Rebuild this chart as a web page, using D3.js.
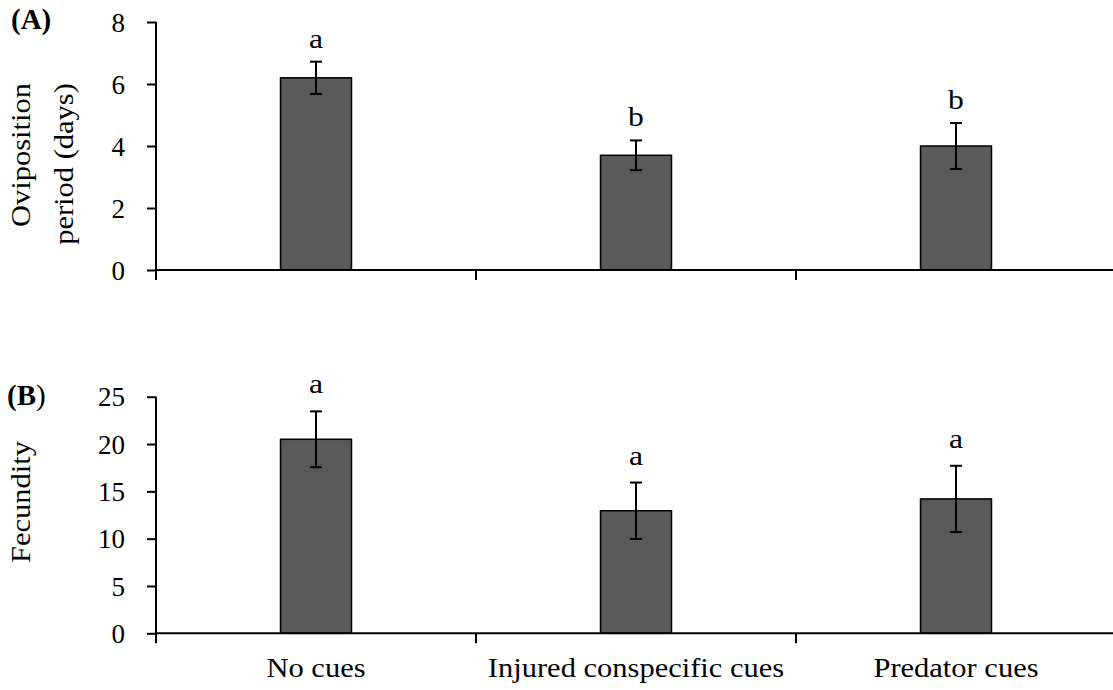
<!DOCTYPE html>
<html>
<head>
<meta charset="utf-8">
<script src="https://cdn.jsdelivr.net/npm/d3@7"></script>
<style>
  html, body { margin: 0; padding: 0; background: #fff; }
  svg { display: block; }
  text { font-family: "Liberation Serif", "Times New Roman", serif; fill: #000; }
</style>
</head>
<body>
<svg id="chart" width="1113" height="690"></svg>
<script>
const categories = ["No cues", "Injured conspecific cues", "Predator cues"];

const ovipositionMean = [6.2, 3.7, 4.0];
const ovipositionErr  = [0.52, 0.48, 0.74];
const ovipositionLetters = ["a", "b", "b"];
const ovipositionTicks = [0, 2, 4, 6, 8];

const fecundityMean = [20.5, 12.95, 14.2];
const fecundityErr  = [2.95, 2.98, 3.5];
const fecundityLetters = ["a", "a", "a"];
const fecundityTicks = [0, 5, 10, 15, 20, 25];

const svg = d3.select("#chart");
const FONT = 27;
const STRETCH = 1.13;

const x = d3.scaleBand().domain(categories).range([156, 1116]).paddingInner(0).paddingOuter(0);
const barW = 71;

function panel(opts) {
  const g = svg.append("g");
  const y = d3.scaleLinear().domain(opts.domain).range([opts.bottom, opts.top]);

  g.selectAll("rect.bar").data(opts.mean).join("rect")
    .attr("class", "bar")
    .attr("x", (d, i) => x(categories[i]) + x.bandwidth() / 2 - barW / 2)
    .attr("y", d => y(d))
    .attr("width", barW)
    .attr("height", d => y(0) - y(d))
    .attr("fill", "#595959")
    .attr("stroke", "#000")
    .attr("stroke-width", 1.5);

  opts.mean.forEach((m, i) => {
    const cx = x(categories[i]) + x.bandwidth() / 2;
    const e = opts.err[i];
    g.append("line").attr("x1", cx).attr("x2", cx).attr("y1", y(m + e)).attr("y2", y(m - e))
      .attr("stroke", "#000").attr("stroke-width", 2);
    [m + e, m - e].forEach(v => {
      g.append("line").attr("x1", cx - 6).attr("x2", cx + 6).attr("y1", y(v)).attr("y2", y(v))
        .attr("stroke", "#000").attr("stroke-width", 2);
    });
    g.append("text").attr("transform", `translate(${cx},${y(m + e) - opts.letterGap}) scale(${STRETCH},1)`)
      .attr("text-anchor", "middle").attr("font-size", 28).text(opts.letters[i]);
  });

  const yAxis = d3.axisLeft(y).tickValues(opts.ticks).tickSize(9).tickPadding(22).tickSizeOuter(0);
  const ya = g.append("g").attr("transform", "translate(156,0)").call(yAxis);
  ya.select(".domain").attr("stroke", "#000").attr("stroke-width", 2)
    .attr("d", `M0,${opts.top}V${opts.bottom}`);
  ya.selectAll(".tick line").attr("stroke", "#000").attr("stroke-width", 2);
  ya.selectAll(".tick text").attr("font-size", FONT).attr("dy", "0.34em");

  g.append("line").attr("x1", 156).attr("x2", 1113).attr("y1", y(0)).attr("y2", y(0))
    .attr("stroke", "#000").attr("stroke-width", 2);
  categories.forEach(c => {
    g.append("line").attr("x1", x(c)).attr("x2", x(c)).attr("y1", y(0)).attr("y2", y(0) + 10)
      .attr("stroke", "#000").attr("stroke-width", 2);
  });
  return y;
}

panel({ domain: [0, 8], top: 22, bottom: 270, mean: ovipositionMean, err: ovipositionErr,
        letters: ovipositionLetters, ticks: ovipositionTicks, letterGap: 14 });
panel({ domain: [0, 25], top: 396.7, bottom: 633.3, mean: fecundityMean, err: fecundityErr,
        letters: fecundityLetters, ticks: fecundityTicks, letterGap: 18 });

svg.append("g").selectAll("text").data(categories).join("text")
  .attr("transform", d => `translate(${x(d) + x.bandwidth() / 2},677) scale(${STRETCH},1)`)
  .attr("text-anchor", "middle").attr("font-size", FONT).text(d => d);

svg.append("text").attr("transform", `translate(30,155) rotate(-90) scale(${STRETCH},1)`)
  .attr("text-anchor", "middle").attr("font-size", FONT).text("Oviposition");
svg.append("text").attr("transform", `translate(73,164) rotate(-90) scale(${STRETCH},1)`)
  .attr("text-anchor", "middle").attr("font-size", FONT).text("period (days)");
svg.append("text").attr("transform", `translate(30,502) rotate(-90) scale(${STRETCH},1)`)
  .attr("text-anchor", "middle").attr("font-size", FONT).text("Fecundity");

svg.append("text").attr("x", 11).attr("y", 29).attr("font-size", 29).attr("font-weight", "bold").text("(A)");
const tB = svg.append("text").attr("x", 7).attr("y", 405).attr("font-size", 29);
tB.append("tspan").attr("font-weight", "bold").text("(B");
tB.append("tspan").text(")");
</script>
</body>
</html>
